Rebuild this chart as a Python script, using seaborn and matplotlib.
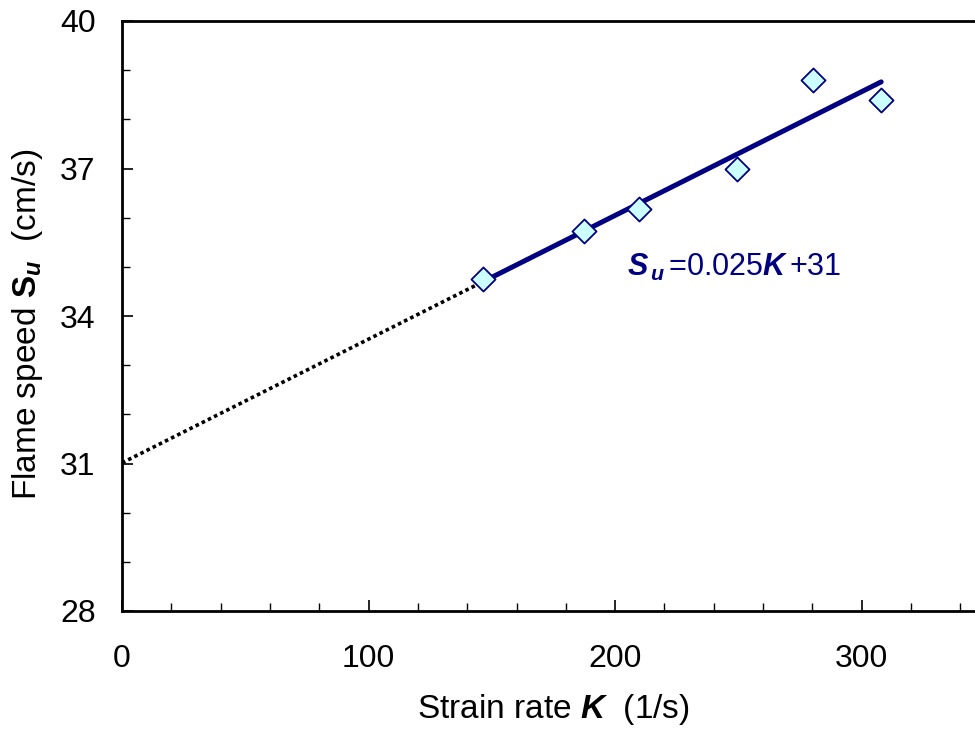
import numpy as np
import pandas as pd
import matplotlib
matplotlib.use("Agg")
import matplotlib.pyplot as plt
from matplotlib.ticker import MultipleLocator
import seaborn as sns

# Data
strain_rate = [146.5, 187.4, 209.7, 249.5, 280.3, 307.9]
flame_speed = [34.75, 35.73, 36.18, 36.99, 38.80, 38.39]
x_ticks = [0, 100, 200, 300]
y_ticks = [28, 31, 34, 37, 40]

sns.set_theme(style="white")
plt.rcParams['font.family'] = ['Liberation Sans', 'DejaVu Sans']
plt.rcParams['text.color'] = 'black'
plt.rcParams['axes.labelcolor'] = 'black'
plt.rcParams['xtick.color'] = 'black'
plt.rcParams['ytick.color'] = 'black'
plt.rcParams['mathtext.fontset'] = 'custom'
plt.rcParams['mathtext.rm'] = 'Liberation Sans'
plt.rcParams['mathtext.it'] = 'Liberation Sans:italic'
plt.rcParams['mathtext.bf'] = 'Liberation Sans:bold'
plt.rcParams['mathtext.bfit'] = 'Liberation Sans:bold:italic'

df = pd.DataFrame({"K": strain_rate, "Su": flame_speed})
slope, intercept = np.polyfit(df["K"], df["Su"], 1)

fit_df = pd.DataFrame({"K": [df["K"].min(), df["K"].max()]})
fit_df["Su"] = slope * fit_df["K"] + intercept
ext_df = pd.DataFrame({"K": [0.0, df["K"].min()]})
ext_df["Su"] = slope * ext_df["K"] + intercept

fig = plt.figure(figsize=(9.75, 7.29), dpi=100)
ax = fig.add_axes([122/975, 1 - 611/729, (985 - 122)/975, (611 - 21)/729])

sns.lineplot(data=ext_df, x="K", y="Su", ax=ax, color="black", lw=2.6,
             linestyle=(0, (1, 0.9)), zorder=2)
sns.lineplot(data=fit_df, x="K", y="Su", ax=ax, color="#000080", lw=3.6,
             solid_capstyle="round", zorder=3)
sns.scatterplot(data=df, x="K", y="Su", ax=ax, marker="D", s=150,
                color="#CCFFFF", edgecolor="#000080", linewidth=1.3, zorder=4)

ax.set_xlim(0, 350)
ax.set_ylim(28, 40)
ax.set_xticks(x_ticks)
ax.set_yticks(y_ticks)
ax.xaxis.set_minor_locator(MultipleLocator(20))
ax.yaxis.set_minor_locator(MultipleLocator(1))
ax.tick_params(axis="both", which="major", direction="in", length=8, width=1.2,
               labelsize=23, colors="black")
ax.tick_params(axis="both", which="minor", direction="in", length=6, width=1.0,
               colors="black")
ax.tick_params(axis="x", which="major", pad=24)
ax.tick_params(axis="y", which="major", pad=19)
ax.tick_params(which="both", bottom=True, left=True, top=False, right=False)

for side in ["left", "bottom", "top"]:
    ax.spines[side].set_visible(True)
    ax.spines[side].set_color("black")
    ax.spines[side].set_linewidth(2.0)
ax.spines["right"].set_visible(False)

ax.set_xlabel(r"Strain rate $\mathbfit{K}$  (1/s)", fontsize=24, labelpad=13)
ax.set_ylabel(r"Flame speed $\mathbf{S}_{\mathbfit{u}}$  (cm/s)", fontsize=24)
ax.yaxis.set_label_coords(-0.089, 0.485)

ax.text(205, 34.98, r"$\mathbfit{S}_{\,\mathbfit{u}}\,$=0.025$\mathbfit{K}\,$+31",
        fontsize=22, color="#000080", ha="left", va="center")

fig.savefig("out.png", dpi=100)
